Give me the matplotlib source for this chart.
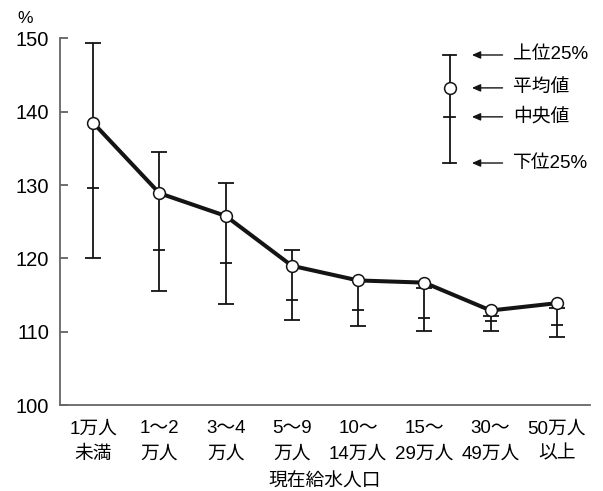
import numpy as np
from matplotlib import pyplot as plt
from matplotlib.patches import FancyArrowPatch

plt.rcParams['font.family'] = ['Liberation Sans', 'Noto Sans CJK JP', 'DejaVu Sans']

# 現在給水人口ごとの値（%）
categories = ['1万人\n未満', '1～2\n万人', '3～4\n万人', '5～9\n万人',
              '10～\n14万人', '15～\n29万人', '30～\n49万人', '50万人\n以上']
mean_vals = [138.5, 128.9, 125.8, 119.0, 117.0, 116.7, 112.9, 113.9]
upper_q = [149.4, 134.5, 130.3, 121.1, 117.0, 116.0, 112.1, 113.2]
median_vals = [129.6, 121.2, 119.4, 114.3, 113.0, 111.9, 111.4, 110.9]
lower_q = [120.0, 115.5, 113.8, 111.6, 110.8, 110.1, 110.1, 109.3]
yticks = [100, 110, 120, 130, 140, 150]

fig = plt.figure(figsize=(6.03, 4.91), dpi=100)
ax = fig.add_axes([0.0995, 0.175, 0.879, 0.7466])

x = np.arange(len(categories))
dark = '#141414'

# quartile range (vertical line reaches the mean marker too)
top = np.maximum(upper_q, mean_vals)
ax.vlines(x, lower_q, top, color=dark, linewidth=1.3, zorder=2)
ax.plot(x, upper_q, linestyle='none', marker='_', markersize=11,
        markeredgewidth=1.3, color=dark, zorder=2)
ax.plot(x, lower_q, linestyle='none', marker='_', markersize=11,
        markeredgewidth=1.3, color=dark, zorder=2)
# median ticks
ax.plot(x, median_vals, linestyle='none', marker='_', markersize=9,
        markeredgewidth=1.3, color=dark, zorder=2)
# mean line
ax.plot(x, mean_vals, color=dark, linewidth=2.9, marker='o', markersize=8.5,
        markerfacecolor='white', markeredgecolor=dark, markeredgewidth=1.1, zorder=3)

ax.set_xlim(-0.5, 7.5)
ax.set_ylim(100, 150)
ax.set_yticks(yticks)
ax.set_xticks(x)
ax.set_xticklabels(categories, fontsize=13.5, linespacing=1.62)
ax.tick_params(axis='x', length=0, pad=11)
ax.tick_params(axis='y', direction='in', length=6, width=1.2, color='#555555',
               labelsize=14.5, pad=8)
for s in ['top', 'right']:
    ax.spines[s].set_visible(False)
for s in ['left', 'bottom']:
    ax.spines[s].set_color('#666666')
    ax.spines[s].set_linewidth(1.3)

ax.set_xlabel('現在給水人口', fontsize=13.5, labelpad=8)
fig.text(0.028, 0.962, '%', fontsize=12.5, ha='left', va='center')

# legend drawn by hand
lx = 0.746
ly_up, ly_mean, ly_med, ly_low = 0.888, 0.821, 0.762, 0.668
fig.add_artist(plt.Line2D([lx, lx], [ly_low, ly_up], color=dark, lw=1.3))
for yy, w in [(ly_up, 0.011), (ly_low, 0.011), (ly_med, 0.009)]:
    fig.add_artist(plt.Line2D([lx - w, lx + w], [yy, yy], color=dark, lw=1.3))
fig.add_artist(plt.Line2D([lx], [ly_mean], marker='o', markersize=8.5,
                          markerfacecolor='white', markeredgecolor=dark,
                          markeredgewidth=1.1))
labels = ['上位25%', '平均値', '中央値', '下位25%']
for yy, lab in zip([ly_up, ly_mean, ly_med, ly_low], labels):
    fig.add_artist(FancyArrowPatch(
        (0.838, yy), (0.778, yy), transform=fig.transFigure,
        arrowstyle='-|>,head_length=5,head_width=2.2', color=dark, lw=1.0))
    fig.text(0.851, yy, lab, fontsize=13.5, ha='left', va='center')

plt.savefig('out.png', dpi=100)
